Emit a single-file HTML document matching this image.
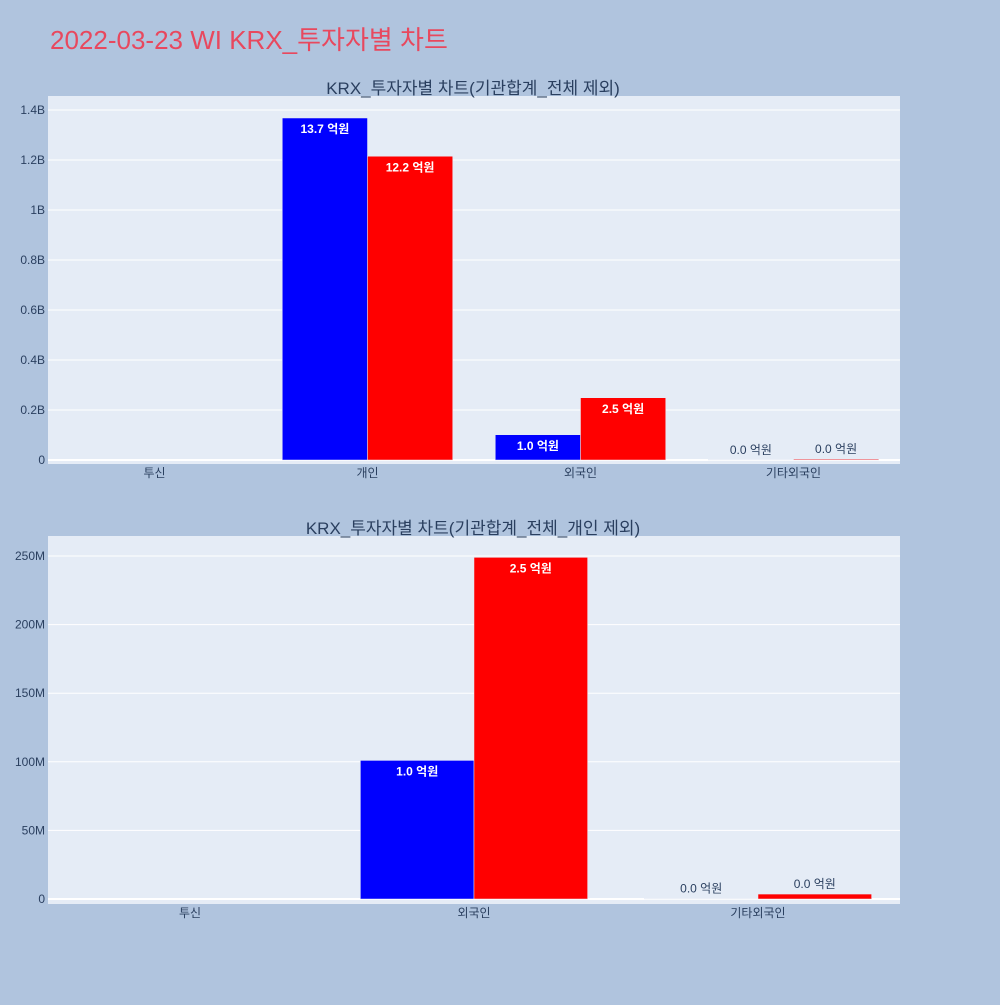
<!DOCTYPE html>
<html><head><meta charset="utf-8">
<style>
body{margin:0;background:#b0c4de;font-family:"Liberation Sans","Noto Sans CJK KR",sans-serif;}
svg text{font-family:"Liberation Sans","Noto Sans CJK KR",sans-serif;}
</style></head>
<body>
<svg width="1000" height="1000" xmlns="http://www.w3.org/2000/svg">
<rect width="1000" height="1000" fill="#b0c4de"/>
<text x="50" y="49" font-size="26" fill="#e8485e">2022-03-23 WI KRX_투자자별 차트</text>
<g id="c1"></g>
<g id="c2"></g>
</svg>
<script>
const cats1 = ["투신","개인","외국인","기타외국인"];
const buy1 = [0, 1368000000, 101000000, 300000];
const sell1 = [0, 1215000000, 249000000, 3600000];
const ticks1 = [0, 200000000, 400000000, 600000000, 800000000, 1000000000, 1200000000, 1400000000];
const tickLabels1 = ["0","0.2B","0.4B","0.6B","0.8B","1B","1.2B","1.4B"];
const cats2 = ["투신","외국인","기타외국인"];
const buy2 = [0, 101000000, 300000];
const sell2 = [0, 249000000, 3600000];
const ticks2 = [0, 50000000, 100000000, 150000000, 200000000, 250000000];
const tickLabels2 = ["0","50M","100M","150M","200M","250M"];

const NS="http://www.w3.org/2000/svg";
function mk(parent, tag, attrs, txt){
  const e=document.createElementNS(NS,tag);
  for(const k in attrs) e.setAttribute(k,attrs[k]);
  if(txt!==undefined) e.textContent=txt;
  parent.appendChild(e); return e;
}
function drawChart(gid, title, cats, buy, sell, ticks, tickLabels, top, bottom, zeroY, maxVal, maxY){
  const g=document.getElementById(gid);
  const L=48, R=900;
  const y=v=>zeroY-(v/maxVal)*(zeroY-maxY);
  const bg=mk(g,'rect',{x:L,y:top,width:R-L,height:bottom-top,fill:'#e5ecf6'});
  
  
  const t=mk(g,'text',{x:473,y:top-2,'font-size':17,fill:'#2a3f5f','text-anchor':'middle'},title);
  
  
  ticks.forEach((v,i)=>{
    const yy=y(v);
    const ln=mk(g,'line',{x1:L,x2:R,y1:yy,y2:yy,stroke:'#fff','stroke-width':i===0?2:1});
    
    
    const tl=mk(g,'text',{x:L-3,y:yy+4,'font-size':12,fill:'#2a3f5f','text-anchor':'end'},tickLabels[i]);
    
    
  });
  const cw=(R-L)/cats.length, bw=cw*0.4;
  cats.forEach((c,i)=>{
    const cx=L+cw*(i+0.5);
    const xl=mk(g,'text',{x:cx,y:bottom+13,'font-size':12,fill:'#2a3f5f','text-anchor':'middle'},c);
    
    
    [[buy[i],'#0000ff',cx-bw],[sell[i],'#ff0000',cx]].forEach(([v,col,x0])=>{
      if(v<=0) return;
      const yt=y(v), h=Math.max(zeroY-yt,0.5);
      const b=mk(g,'rect',{x:x0,y:zeroY-h,width:bw,height:h,fill:col,stroke:'#e5ecf6','stroke-width':0.5});
      
      
      const lab=(v/1e8).toFixed(1)+' 억원';
      let tx;
      if(h>20){
        tx=mk(g,'text',{x:x0+bw/2,y:yt+15,'font-size':12,'font-weight':'bold',fill:'#fff','text-anchor':'middle'},lab);
      } else {
        tx=mk(g,'text',{x:x0+bw/2,y:yt-6,'font-size':12,fill:'#2a3f5f','text-anchor':'middle'},lab);
      }
      
      
    });
  });
}
drawChart('c1','KRX_투자자별 차트(기관합계_전체 제외)',cats1,buy1,sell1,ticks1,tickLabels1,96,464,460,1400000000,110);
drawChart('c2','KRX_투자자별 차트(기관합계_전체_개인 제외)',cats2,buy2,sell2,ticks2,tickLabels2,536,904,899,250000000,556);
</script>
</body></html>
